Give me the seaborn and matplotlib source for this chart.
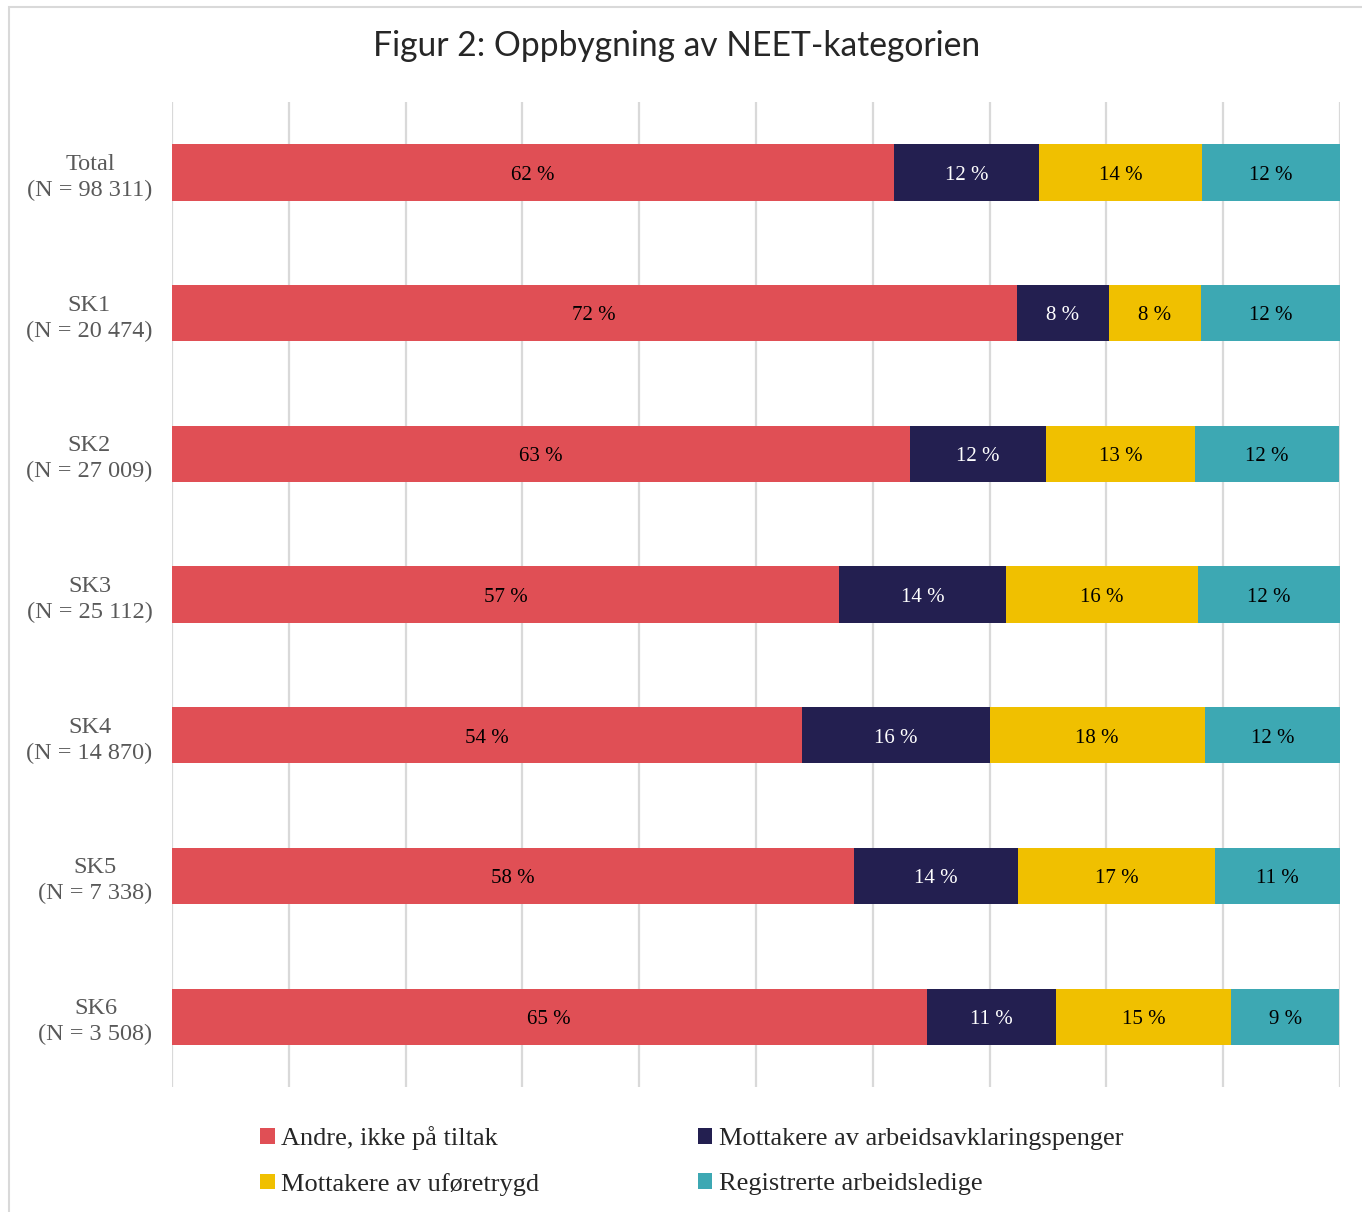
import numpy as np
import pandas as pd
import matplotlib
matplotlib.use('Agg')
import matplotlib.pyplot as plt
from matplotlib.patches import Patch, Rectangle
import seaborn as sns

# Data (share of NEET group, %)
groups = ['Total\n(N = 98 311)', 'SK1\n(N = 20 474)', 'SK2\n(N = 27 009)',
          'SK3\n(N = 25 112)', 'SK4\n(N = 14 870)', 'SK5\n(N = 7 338)',
          'SK6\n(N = 3 508)']
andre = [61.8, 72.3, 63.2, 57.1, 53.9, 58.4, 64.6]
aap = [12.4, 7.9, 11.6, 14.3, 16.1, 14.0, 11.1]
ufore = [14.0, 7.9, 12.8, 16.4, 18.4, 16.9, 15.0]
ledige = [11.8, 11.9, 12.3, 12.2, 11.6, 10.7, 9.2]

series = ['Andre, ikke på tiltak', 'Mottakere av arbeidsavklaringspenger',
          'Mottakere av uføretrygd', 'Registrerte arbeidsledige']
colors = ['#E04F55', '#231F50', '#F0C000', '#3DA8B3']
text_colors = ['black', 'white', 'black', 'black']

sns.set_style('white')
plt.rcParams['font.family'] = ['Liberation Serif', 'DejaVu Serif']

df = pd.DataFrame({'group': groups, series[0]: andre, series[1]: aap,
                   series[2]: ufore, series[3]: ledige})
cum = df[series].cumsum(axis=1)

fig = plt.figure(figsize=(13.62, 12.12), dpi=100)
ax = fig.add_axes([0.1263, 0.1031, 0.8576, 0.8127])

# stacked bars: draw cumulative totals from the right-most segment backwards
for k in range(len(series) - 1, -1, -1):
    sns.barplot(x=cum[series[k]], y=df['group'], orient='h', color=colors[k],
                saturation=1, width=0.4, edgecolor='none', ax=ax, zorder=2)

# segment labels
for k, s in enumerate(series):
    start = cum[s] - df[s]
    for i, v in enumerate(df[s]):
        ax.text(start[i] + v / 2, i + 0.02, f'{v:.0f} %', ha='center',
                va='center', fontsize=15, color=text_colors[k], zorder=3)

ax.set_xlim(0, 100)
ax.set_ylim(6.5, -0.5)
ax.set_xticks(np.arange(0, 101, 10))
ax.set_xticklabels([])
ax.tick_params(axis='both', length=0)
ax.tick_params(axis='y', labelsize=17.5, labelcolor='#595959', pad=14)
for lab in ax.get_yticklabels():
    lab.set_multialignment('center')
    lab.set_linespacing(1.3)
ax.grid(axis='x', color='#d9d9d9', linewidth=1.6, zorder=0)
ax.grid(axis='y', visible=False)
ax.set_axisbelow(True)
ax.set_xlabel('')
ax.set_ylabel('')
for sp in ax.spines.values():
    sp.set_visible(False)

fig.text(0.497, 0.962, 'Figur 2: Oppbygning av NEET-kategorien', ha='center',
         va='center', fontsize=24.2, family=['Lato', 'DejaVu Sans'])

order = [0, 2, 1, 3]
handles = [Patch(facecolor=colors[k], edgecolor='none') for k in order]
fig.legend(handles, [series[k] for k in order], ncol=2, loc='center',
           bbox_to_anchor=(0.508, 0.042), frameon=False, fontsize=19,
           handlelength=0.55, handleheight=0.55, handletextpad=0.25,
           columnspacing=6.0, labelspacing=0.85)

# light frame around the chart area
fig.patches.append(Rectangle((9 / 1362, -0.05), 1.1, 0.05 + 1 - 7 / 1212,
                             transform=fig.transFigure, fill=False,
                             edgecolor='#d9d9d9', linewidth=1.5))

fig.savefig('out.png', dpi=100)
